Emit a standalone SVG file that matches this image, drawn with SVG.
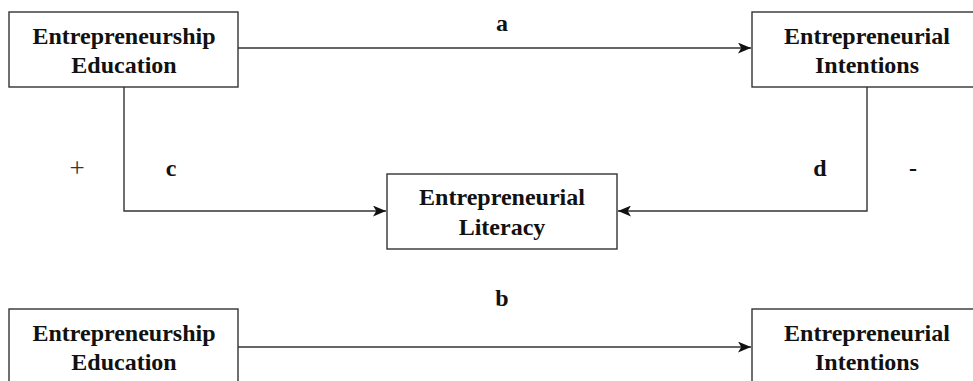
<svg xmlns="http://www.w3.org/2000/svg" width="973" height="381" viewBox="0 0 973 381">
<style>
.box{fill:#fff;stroke:#333;stroke-width:1.4}
.t{font-family:"Liberation Serif","Times New Roman",serif;font-weight:bold;font-size:24px;fill:#111;text-anchor:middle}
.l{font-family:"Liberation Serif","Times New Roman",serif;font-weight:bold;font-size:24px;fill:#111;text-anchor:middle}
.s{font-family:"Liberation Serif","Times New Roman",serif;font-size:27px;fill:#333;text-anchor:middle}
.c{fill:none;stroke:#333;stroke-width:1.4}
</style>
<defs>
<marker id="ah" viewBox="0 0 12 10" refX="12" refY="5" markerWidth="13" markerHeight="11" markerUnits="userSpaceOnUse" orient="auto">
<path d="M0,0 L12,5 L0,10 L3,5 Z" fill="#111"/>
</marker>
</defs>
<g id="connectors">
<line class="c" x1="238" y1="48" x2="751" y2="48" marker-end="url(#ah)"/>
<polyline class="c" points="124,87 124,211 386,211" marker-end="url(#ah)"/>
<polyline class="c" points="867,87 867,211 618,211" marker-end="url(#ah)"/>
<line class="c" x1="238" y1="347" x2="751" y2="347" marker-end="url(#ah)"/>
</g>
<g id="labels">
<text class="l" x="502" y="31">a</text>
<text class="l" x="171" y="176">c</text>
<text class="l" x="820" y="176">d</text>
<text class="s" x="77" y="177">+</text>
<text class="l" x="913" y="176">-</text>
<text class="l" x="502" y="306">b</text>
</g>
<g id="edu1">
<rect class="box" x="9" y="12" width="229" height="75"/>
<text class="t" x="124" y="44">Entrepreneurship</text>
<text class="t" x="124" y="73">Education</text>
</g>
<g id="int1">
<rect class="box" x="752" y="12" width="230" height="75"/>
<text class="t" x="867" y="44">Entrepreneurial</text>
<text class="t" x="867" y="73">Intentions</text>
</g>
<g id="lit">
<rect class="box" x="387" y="174" width="230" height="75"/>
<text class="t" x="502" y="205">Entrepreneurial</text>
<text class="t" x="502" y="235">Literacy</text>
</g>
<g id="edu2">
<rect class="box" x="9" y="309" width="229" height="80"/>
<text class="t" x="124" y="341">Entrepreneurship</text>
<text class="t" x="124" y="370">Education</text>
</g>
<g id="int2">
<rect class="box" x="752" y="309" width="230" height="80"/>
<text class="t" x="867" y="341">Entrepreneurial</text>
<text class="t" x="867" y="370">Intentions</text>
</g>
</svg>
